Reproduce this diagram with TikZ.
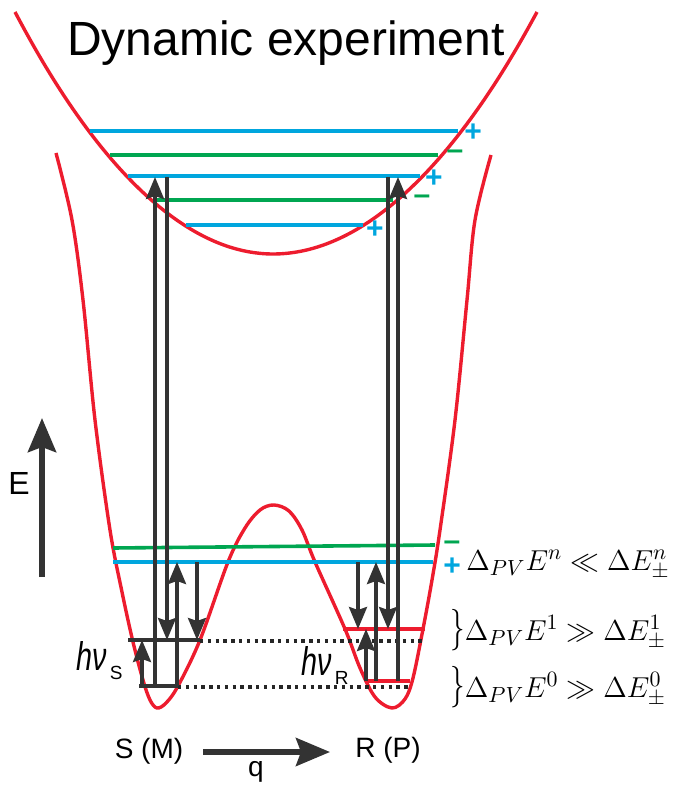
\documentclass[tikz,border=0pt]{standalone}
\usepackage[no-math]{fontspec}
\setmainfont{Liberation Sans}
\usepackage{tikz}
\usetikzlibrary{arrows.meta}
\definecolor{wellred}{RGB}{237,28,46}
\definecolor{lvlblue}{RGB}{0,166,222}
\definecolor{lvlgreen}{RGB}{0,166,81}
\definecolor{arrgray}{RGB}{51,51,51}
\newcommand{\photon}[1]{\scalebox{0.72}[1]{\fontsize{20}{22}\selectfont\itshape hν}\hspace{1.5pt}\raisebox{-4.5pt}{\fontsize{9.5}{9.5}\selectfont #1}}
\newcommand{\pairbrace}{\scalebox{0.7}[1]{\fontsize{21}{21}\selectfont$\}$}}

\begin{document}
\begin{tikzpicture}[x=0.5pt, y=-0.5pt,
    well/.style={draw=wellred, line width=1.7pt},
    bluelvl/.style={draw=lvlblue, line width=1.8pt},
    greenlvl/.style={draw=lvlgreen, line width=1.8pt},
    blacklvl/.style={draw=arrgray, line width=1.7pt},
    redlvl/.style={draw=wellred, line width=1.7pt},
    dotlvl/.style={draw=black!85, line width=1.7pt, dash pattern=on 1.7pt off 2.2pt},
    trans/.style={draw=arrgray, line width=1.7pt, -{Stealth[length=11pt,width=9pt,inset=1.5pt]}},
    bigarrow/.style={draw=arrgray, -{Stealth[length=17pt,width=14pt,inset=2.5pt]}},
    plus/.style={text=lvlblue, font=\fontsize{15}{15}\selectfont\bfseries, inner sep=0pt},
    minus/.style={text=lvlgreen, font=\fontsize{15}{15}\selectfont\bfseries, inner sep=0pt},
    lbl/.style={font=\fontsize{14}{16}\selectfont, inner sep=0pt},
    eqn/.style={font=\fontsize{15}{18}\selectfont, anchor=base west, inner sep=0pt}
]
\useasboundingbox (0,0) rectangle (682,785);

% Title
\node[font=\fontsize{24}{28}\selectfont, anchor=base, inner sep=0pt] (title) at (286,56) {Dynamic experiment};

% Upper (excited) potential
\draw[well] (15,12) parabola bend (273,254) (537,12);

% Upper levels
\draw[bluelvl]  (90,131) -- (458,131);
\draw[greenlvl] (110,155) -- (438,155);
\draw[bluelvl]  (128,176) -- (420,176);
\draw[greenlvl] (153,200) -- (393,200);
\draw[bluelvl]  (186,225) -- (363,225);
\node[plus]  (p1) at (473,133) {+};
\node[minus] (m1) at (455,155) {--};
\node[plus]  (p2) at (434,179) {+};
\node[minus] (m2) at (422,200) {--};
\node[plus]  (p3) at (375,230) {+};

% Double well (ground state)
\draw[well] plot[smooth, tension=0.55] coordinates {
    (56,153) (72,220) (83,300) (95,420) (110,530) (122,592) (133,642)
    (143,680) (150,700) (157,708) (166,703) (178,686) (200,640) (228,562)
    (245,528) (260,510) (274,505) (289,511) (302,530) (315,562) (345,629)
    (360,668) (375,697) (392,708) (405,699) (413,678) (423,629) (432,580)
    (440,530) (455,420) (467,300) (475,220) (491,155)};

% Lower levels
\draw[greenlvl] (113,548) -- (435,545);
\draw[bluelvl]  (113,562) -- (433,562);
\node[minus] (m3) at (452,546) {--};
\node[plus]  (p4) at (452,567) {+};

\draw[blacklvl] (128,640) -- (200,640);
\draw[blacklvl] (139,686) -- (178,686);
\draw[dotlvl] (200,641) -- (422,641);
\draw[dotlvl] (178,687) -- (408,687);
\draw[redlvl] (343,629) -- (425,629);
\draw[redlvl] (366,681) -- (410,681);

% Transition end points
\coordinate (a1s) at (155,686); \coordinate (a1e) at (155,177);
\coordinate (a2s) at (167,177); \coordinate (a2e) at (167,640);
\coordinate (a3s) at (177,686); \coordinate (a3e) at (177,562);
\coordinate (a4s) at (197,562); \coordinate (a4e) at (197,640);
\coordinate (a5s) at (142,686); \coordinate (a5e) at (142,640);
\coordinate (b1s) at (358,562); \coordinate (b1e) at (358,629);
\coordinate (b2s) at (366,681); \coordinate (b2e) at (366,629);
\coordinate (b3s) at (376,681); \coordinate (b3e) at (376,562);
\coordinate (b4s) at (388,177); \coordinate (b4e) at (388,629);
\coordinate (b5s) at (398,681); \coordinate (b5e) at (398,177);

% Transitions
\foreach \t in {a1,a2,a3,a4,a5,b1,b2,b3,b4,b5}
    \draw[trans] (\t s) -- (\t e);

% Photon labels
\node[anchor=base east, inner sep=0pt] (hvS) at (123,670) {\photon{S}};
\node[anchor=base east, inner sep=0pt] (hvR) at (349,675) {\photon{R}};

% Splitting relations
\node[eqn] (rn) at (466,570) {$\Delta_{PV}E^n \ll \Delta E^n_\pm$};
\node[eqn] (r1) at (450,640) {\pairbrace$\Delta_{PV}E^1 \gg \Delta E^1_\pm$};
\node[eqn] (r0) at (450,697) {\pairbrace$\Delta_{PV}E^0 \gg \Delta E^0_\pm$};

% Energy axis
\coordinate (e0) at (42,577); \coordinate (e1) at (42,418);
\draw[bigarrow, line width=3pt] (e0) -- (e1);
\node[lbl, font=\fontsize{16}{18}\selectfont] (elab) at (19,483) {E};

% Reaction coordinate
\node[lbl] (sm) at (149,751) {S (M)};
\node[lbl] (rp) at (388,750) {R (P)};
\node[lbl] (q) at (256,772) {q};
\coordinate (q0) at (203,752); \coordinate (q1) at (330,752);
\draw[bigarrow, line width=2.6pt] (q0) -- (q1);

\end{tikzpicture}
\end{document}
